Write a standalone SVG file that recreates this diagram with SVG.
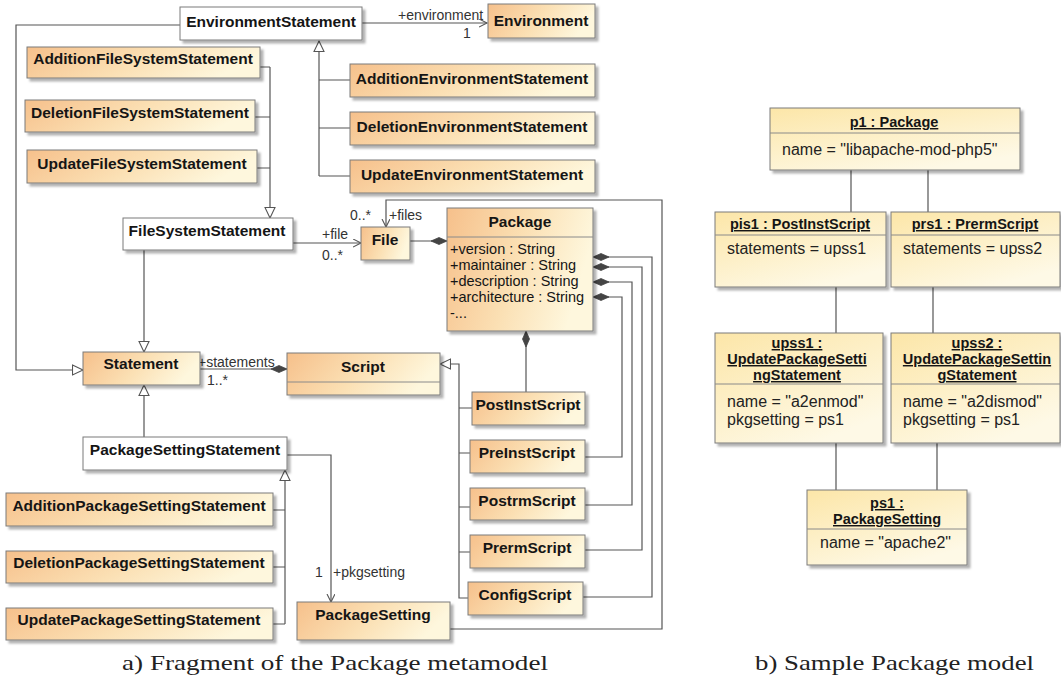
<svg xmlns="http://www.w3.org/2000/svg" width="1061" height="687" viewBox="0 0 1061 687">
<defs>
<linearGradient id="gO" x1="0" y1="0" x2="1" y2="0.25">
<stop offset="0" stop-color="#f6c08b"/><stop offset="0.55" stop-color="#fbe0b4"/><stop offset="1" stop-color="#fef7dd"/>
</linearGradient>
<linearGradient id="gY" x1="0" y1="0" x2="0.6" y2="1">
<stop offset="0" stop-color="#fce6a8"/><stop offset="1" stop-color="#fef9e6"/>
</linearGradient>
<filter id="sh" x="-5%" y="-5%" width="115%" height="140%">
<feDropShadow dx="3" dy="3" stdDeviation="1" flood-color="#000" flood-opacity="0.3"/>
</filter>
<marker id="tri" markerUnits="userSpaceOnUse" markerWidth="13" markerHeight="13" refX="11" refY="6" orient="auto">
<path d="M0.5,1 L11,6 L0.5,11 Z" fill="#fff" stroke="#555" stroke-width="1.1"/>
</marker>
<marker id="open" markerUnits="userSpaceOnUse" markerWidth="10" markerHeight="10" refX="8" refY="4" orient="auto">
<path d="M0,0 L8,4 L0,8" fill="none" stroke="#555" stroke-width="1.1"/>
</marker>
<marker id="dia" markerUnits="userSpaceOnUse" markerWidth="17" markerHeight="9" refX="0" refY="4" orient="auto">
<path d="M0,4 L8,0.5 L16,4 L8,7.5 Z" fill="#444" stroke="#444" stroke-width="0.8"/>
</marker>
</defs>
<style>
.bo{fill:url(#gO);stroke:#7b7b7b;stroke-width:1;filter:url(#sh)}
.bw{fill:#fff;stroke:#7b7b7b;stroke-width:1;filter:url(#sh)}
.by{fill:url(#gY);stroke:#7b7b7b;stroke-width:1;filter:url(#sh)}
.dv{stroke:#8a8a8a;stroke-width:1}
text{font-family:"Liberation Sans",Arial,sans-serif;fill:#151515}
.cn{font-size:15.5px;font-weight:bold;text-anchor:middle}
.at{font-size:14.5px}
.lb{font-size:14px;fill:#333}
.ot{font-size:14.5px;font-weight:bold;text-anchor:middle;text-decoration:underline}
.oa{font-size:16px;fill:#222}
.ln{fill:none;stroke:#555;stroke-width:1.2}
.cap{font-family:"Liberation Serif","DejaVu Serif",serif;font-size:21px;fill:#222}
</style>
<rect width="1061" height="687" fill="#fff"/>

<g id="connectors">
<path class="ln" d="M362,23 H487" marker-end="url(#open)"/>
<path class="ln" d="M319,176 V41" marker-end="url(#tri)"/>
<path class="ln" d="M350,80 H319 M350,128 H319 M350,176 H319"/>
<path class="ln" d="M270,67 V218" marker-end="url(#tri)"/>
<path class="ln" d="M260,67 H270 M255,117 H270 M257,168 H270"/>
<path class="ln" d="M180,25 H16 V370 H83" marker-end="url(#tri)"/>
<path class="ln" d="M144,250 V352" marker-end="url(#tri)"/>
<path class="ln" d="M144,437 V385" marker-end="url(#tri)"/>
<path class="ln" d="M287,369 H200" marker-start="url(#dia)"/>
<path class="ln" d="M293,243 H361" marker-end="url(#open)"/>
<path class="ln" d="M447,241 H410" marker-start="url(#dia)"/>
<path class="ln" d="M526,331 V392" marker-start="url(#dia)"/>
<path class="ln" d="M468,598 H459 V364 H440" marker-end="url(#tri)"/>
<path class="ln" d="M472,408 H459 M470,453 H459 M470,507 H459 M470,552 H459"/>
<path class="ln" d="M593,297 H622 V457 H585" marker-start="url(#dia)"/>
<path class="ln" d="M593,282 H632 V505 H585" marker-start="url(#dia)"/>
<path class="ln" d="M593,267 H642 V550 H585" marker-start="url(#dia)"/>
<path class="ln" d="M593,257 H652 V597 H583" marker-start="url(#dia)"/>
<path class="ln" d="M450,629 H662 V200 H386 V227" marker-end="url(#open)"/>
<path class="ln" d="M287,455 H331 V602" marker-end="url(#open)"/>
<path class="ln" d="M285,624 V470" marker-end="url(#tri)"/>
<path class="ln" d="M273,510 H285 M273,567 H285 M273,624 H285"/>
<text class="lb" x="398" y="20">+environment</text>
<text class="lb" x="463" y="38">1</text>
<text class="lb" x="322" y="239">+file</text>
<text class="lb" x="322" y="260">0..*</text>
<text class="lb" x="350" y="220">0..*</text>
<text class="lb" x="389" y="220">+files</text>
<text class="lb" x="198" y="367">+statements</text>
<text class="lb" x="207" y="385">1..*</text>
<text class="lb" x="315" y="577">1</text>
<text class="lb" x="333" y="577">+pkgsetting</text>
<path class="ln" d="M851,170 V212 M928,170 V212 M836,287 V333 M933,287 V333 M836,443 V490 M937,443 V490"/>
</g>

<g id="n-envstmt"><rect class="bw" x="180" y="7" width="182" height="33"/><text class="cn" x="271" y="27">EnvironmentStatement</text></g>
<g id="n-env"><rect class="bo" x="488" y="4" width="107" height="34"/><text class="cn" x="541" y="26">Environment</text></g>
<g id="n-addenv"><rect class="bo" x="350" y="64" width="245" height="33"/><text class="cn" x="472" y="84">AdditionEnvironmentStatement</text></g>
<g id="n-delenv"><rect class="bo" x="350" y="112" width="245" height="33"/><text class="cn" x="472" y="132">DeletionEnvironmentStatement</text></g>
<g id="n-updenv"><rect class="bo" x="350" y="160" width="245" height="33"/><text class="cn" x="472" y="180">UpdateEnvironmentStatement</text></g>
<g id="n-addfs"><rect class="bo" x="27" y="47" width="233" height="31"/><text class="cn" x="143" y="64">AdditionFileSystemStatement</text></g>
<g id="n-delfs"><rect class="bo" x="25" y="100" width="230" height="32"/><text class="cn" x="140" y="118">DeletionFileSystemStatement</text></g>
<g id="n-updfs"><rect class="bo" x="27" y="150" width="230" height="33"/><text class="cn" x="142" y="169">UpdateFileSystemStatement</text></g>
<g id="n-fss"><rect class="bw" x="123" y="218" width="170" height="32"/><text class="cn" x="207" y="236">FileSystemStatement</text></g>
<g id="n-stmt"><rect class="bo" x="83" y="352" width="117" height="33"/><text class="cn" x="141" y="369">Statement</text></g>
<g id="n-script"><rect class="bo" x="287" y="353" width="153" height="42"/><line class="dv" x1="287" y1="382" x2="440" y2="382"/><text class="cn" x="363" y="372">Script</text></g>
<g id="n-file"><rect class="bo" x="361" y="227" width="49" height="33"/><text class="cn" x="385" y="245">File</text></g>
<g id="n-pkg"><rect class="bo" x="447" y="208" width="146" height="123"/><line class="dv" x1="447" y1="237" x2="593" y2="237"/><text class="cn" x="520" y="227">Package</text>
<text class="at" x="450" y="254">+version : String</text>
<text class="at" x="450" y="270">+maintainer : String</text>
<text class="at" x="450" y="286">+description : String</text>
<text class="at" x="450" y="302">+architecture : String</text>
<text class="at" x="450" y="318">-...</text></g>
<g id="n-postinst"><rect class="bo" x="472" y="392" width="113" height="33"/><text class="cn" x="528" y="410">PostInstScript</text></g>
<g id="n-preinst"><rect class="bo" x="470" y="440" width="115" height="33"/><text class="cn" x="527" y="458">PreInstScript</text></g>
<g id="n-postrm"><rect class="bo" x="470" y="488" width="115" height="32"/><text class="cn" x="527" y="506">PostrmScript</text></g>
<g id="n-prerm"><rect class="bo" x="470" y="535" width="115" height="33"/><text class="cn" x="527" y="553">PrermScript</text></g>
<g id="n-config"><rect class="bo" x="468" y="582" width="115" height="33"/><text class="cn" x="525" y="600">ConfigScript</text></g>
<g id="n-pss"><rect class="bw" x="83" y="437" width="204" height="33"/><text class="cn" x="185" y="455">PackageSettingStatement</text></g>
<g id="n-ps"><rect class="bo" x="297" y="602" width="153" height="38"/><text class="cn" x="373" y="620">PackageSetting</text></g>
<g id="n-addpss"><rect class="bo" x="6" y="493" width="267" height="33"/><text class="cn" x="139" y="511">AdditionPackageSettingStatement</text></g>
<g id="n-delpss"><rect class="bo" x="6" y="551" width="267" height="32"/><text class="cn" x="139" y="568">DeletionPackageSettingStatement</text></g>
<g id="n-updpss"><rect class="bo" x="6" y="608" width="267" height="32"/><text class="cn" x="139" y="625">UpdatePackageSettingStatement</text></g>

<g id="o-p1"><rect class="by" x="770" y="108" width="250" height="62"/><line class="dv" x1="770" y1="133" x2="1020" y2="133"/><text class="ot" x="894" y="127">p1 : Package</text><text class="oa" x="782" y="155">name = "libapache-mod-php5"</text></g>
<g id="o-pis1"><rect class="by" x="715" y="212" width="171" height="75"/><line class="dv" x1="715" y1="235" x2="886" y2="235"/><text class="ot" x="800" y="229">pis1 : PostInstScript</text><text class="oa" x="727" y="254">statements = upss1</text></g>
<g id="o-prs1"><rect class="by" x="891" y="212" width="169" height="75"/><line class="dv" x1="891" y1="235" x2="1060" y2="235"/><text class="ot" x="975" y="229">prs1 : PrermScript</text><text class="oa" x="903" y="254">statements = upss2</text></g>
<g id="o-upss1"><rect class="by" x="715" y="333" width="168" height="110"/><line class="dv" x1="715" y1="384" x2="883" y2="384"/><text class="ot" x="797" y="348">upss1 :</text><text class="ot" x="797" y="364">UpdatePackageSetti</text><text class="ot" x="797" y="380">ngStatement</text><text class="oa" x="727" y="407">name = "a2enmod"</text><text class="oa" x="727" y="425">pkgsetting = ps1</text></g>
<g id="o-upss2"><rect class="by" x="891" y="333" width="169" height="110"/><line class="dv" x1="891" y1="384" x2="1060" y2="384"/><text class="ot" x="977" y="348">upss2 :</text><text class="ot" x="977" y="364">UpdatePackageSettin</text><text class="ot" x="977" y="380">gStatement</text><text class="oa" x="903" y="407">name = "a2dismod"</text><text class="oa" x="903" y="425">pkgsetting = ps1</text></g>
<g id="o-ps1"><rect class="by" x="807" y="490" width="160" height="75"/><line class="dv" x1="807" y1="529" x2="967" y2="529"/><text class="ot" x="887" y="508">ps1 :</text><text class="ot" x="887" y="524">PackageSetting</text><text class="oa" x="820" y="548">name = "apache2"</text></g>

<text class="cap" x="122" y="670" textLength="426" lengthAdjust="spacingAndGlyphs">a) Fragment of the Package metamodel</text>
<text class="cap" x="755" y="670" textLength="279" lengthAdjust="spacingAndGlyphs">b) Sample Package model</text>
</svg>
